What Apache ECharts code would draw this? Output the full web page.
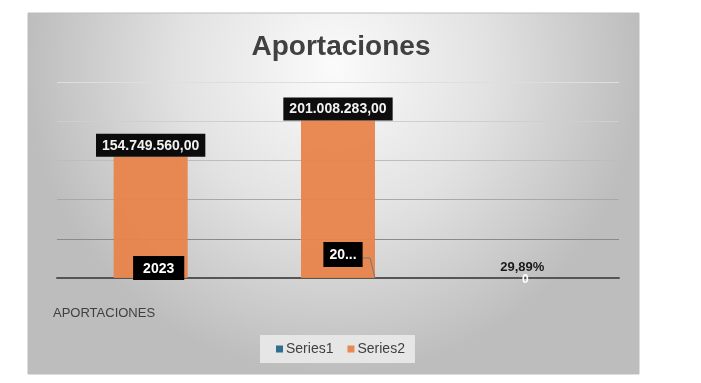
<!DOCTYPE html>
<html><head><meta charset="utf-8">
<script src="https://cdn.jsdelivr.net/npm/echarts@6/dist/echarts.min.js"></script>
<style>html,body{margin:0;padding:0;background:#fff}#c{width:701px;height:383px}</style>
</head><body><div id="c"></div>
<script>
var categories = ['A', 'B', 'C'];
var series1 = [2023, 2024, 0];
var series2 = [154749560, 201008283, 0.2989];
var seriesNames = ['Series1', 'Series2'];
var yTicks = [0, 50000000, 100000000, 150000000, 200000000, 250000000];

function fmtNum(v) {
  var parts = v.toFixed(2).split('.');
  parts[0] = parts[0].replace(/\B(?=(\d{3})+(?!\d))/g, '.');
  return parts[0] + ',' + parts[1];
}
var FONT = 'Liberation Sans, Arial, sans-serif';
var boxLabel = { show: true, color: '#fff', fontWeight: 'bold', fontSize: 14, fontFamily: FONT,
  backgroundColor: '#000', padding: [5, 6, 4, 6] };

var s2data = series2.map(function (v, i) {
  if (i === 2) {
    return { value: v, label: { show: true, position: 'top', distance: 4, offset: [-3, 0], color: '#111', fontWeight: 'bold', fontSize: 13, fontFamily: FONT,
      formatter: function (p) { return (p.value * 100).toFixed(2).replace('.', ',') + '%'; } } };
  }
  return { value: v, label: Object.assign({}, boxLabel, { position: 'top', distance: 0, formatter: function (p) { return fmtNum(p.value); } }) };
});
var s1data = series1.map(function (v, i) {
  if (i === 0) return { value: v, label: Object.assign({}, boxLabel, { position: 'top', distance: -2, offset: [8, 0], padding: [6, 10, 4, 10] }) };
  if (i === 1) return { value: v, label: Object.assign({}, boxLabel, { position: 'top', distance: 11, offset: [5, 0], padding: [6, 6, 5, 6],
    formatter: function (p) { return String(p.value).slice(0, 2) + '...'; } }) };
  return { value: v, label: { show: true, position: 'top', distance: -8, color: '#fff', fontWeight: 'bold', fontSize: 12, fontFamily: FONT } };
});

var chart = echarts.init(document.getElementById('c'), null, { renderer: 'canvas' });
chart.setOption({
  animation: false,
  textStyle: { fontFamily: FONT },
  graphic: [
    { type: 'rect', z: -10, shape: { x: 28, y: 13, width: 611, height: 361 },
      style: { fill: new echarts.graphic.RadialGradient(0.5, 0.15, 0.85, [
        { offset: 0, color: '#fbfbfb' }, { offset: 0.5, color: '#e2e2e2' }, { offset: 1, color: '#bdbdbd' }]),
        stroke: '#bdbdbd', lineWidth: 1 } },
    { type: 'text', left: 53, top: 307, style: { text: 'APORTACIONES', fill: '#404040', font: '13px ' + FONT } },
    { type: 'line', z: 5, shape: { x1: 363, y1: 258, x2: 370, y2: 258 }, style: { stroke: '#777', lineWidth: 1 } },
    { type: 'line', z: 5, shape: { x1: 370, y1: 258, x2: 375, y2: 278 }, style: { stroke: '#777', lineWidth: 1 } }
  ],
  title: { text: 'Aportaciones', left: 336, top: 28, textAlign: 'center',
    textStyle: { fontSize: 28, fontWeight: 'bold', color: '#404040', fontFamily: FONT } },
  legend: { data: seriesNames, left: 260, top: 335, icon: 'rect', itemWidth: 7, itemHeight: 7, itemGap: 14,
    backgroundColor: '#e6e6e6', padding: [7, 10, 7, 16],
    textStyle: { color: '#404040', fontSize: 14, fontFamily: FONT, padding: [0, 0, 0, -2] } },
  grid: { left: 57, right: 82, top: 82, bottom: 105 },
  xAxis: { type: 'category', data: categories, axisLabel: { show: false }, axisTick: { show: false },
    axisLine: { lineStyle: { color: '#555', width: 2 } } },
  yAxis: { type: 'value', min: yTicks[0], max: yTicks[yTicks.length - 1], interval: yTicks[1] - yTicks[0],
    axisLabel: { show: false },
    splitLine: { lineStyle: { color: ['#555', '#8a8a8a', '#a8a8a8', '#bdbdbd', '#cfcfcf', '#dedede'], width: 1 } } },
  series: [
    { name: seriesNames[0], type: 'bar', data: s1data, barWidth: 74, barGap: '-100%', itemStyle: { color: '#2E6E8E' }, z: 3 },
    { name: seriesNames[1], type: 'bar', data: s2data, barWidth: 74, barGap: '-100%', itemStyle: { color: '#E8834A', opacity: 0.95 }, z: 2 }
  ]
});
</script></body></html>
